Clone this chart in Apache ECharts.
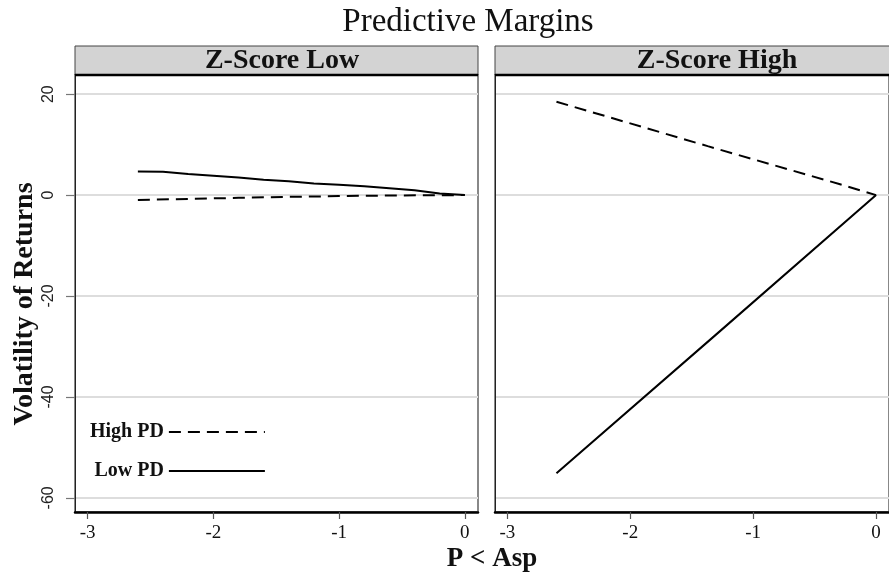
<!DOCTYPE html>
<html>
<head>
<meta charset="utf-8">
<script src="https://cdn.jsdelivr.net/npm/echarts@6/dist/echarts.min.js"></script>
<style>
  html, body { margin: 0; padding: 0; background: #fff; }
  #chart { width: 889px; height: 577px; }
</style>
</head>
<body>
<div id="chart"></div>
<script>
// Axis ticks shared by both panels
const xTicks = [-3, -2, -1, 0];
const yTicks = [20, 0, -20, -40, -60];
const panelTitles = ['Z-Score Low', 'Z-Score High'];
const seriesNames = ['High PD', 'Low PD'];

// Panel 1: Z-Score Low
const lowZ_highPD_x = [-2.6, -2.2, -1.8, -1.4, -1.0, -0.6, -0.2, 0];
const lowZ_highPD_y = [-0.95, -0.75, -0.55, -0.35, -0.2, -0.08, -0.02, 0];
const lowZ_lowPD_x = [-2.6, -2.4, -2.2, -2.0, -1.8, -1.6, -1.4, -1.2, -1.0, -0.8, -0.6, -0.4, -0.2, 0];
const lowZ_lowPD_y = [4.68, 4.65, 4.2, 3.85, 3.5, 3.05, 2.75, 2.3, 2.05, 1.75, 1.35, 0.95, 0.3, 0];

// Panel 2: Z-Score High
const highZ_highPD_x = [-2.6, -1.37, -0.3, 0];
const highZ_highPD_y = [18.5, 9.7, 2.2, 0];
const highZ_lowPD_x = [-2.6, -1.3, 0];
const highZ_lowPD_y = [-55.1, -27.6, 0];

const pairs = (xs, ys) => xs.map((x, i) => [x, ys[i]]);

const SERIF = '"Liberation Serif", "Times New Roman", serif';
const SANS = '"Liberation Sans", Arial, sans-serif';

const grids = [
  { left: 75, top: 75, width: 403, height: 437 },
  { left: 495, top: 75, width: 403, height: 437 }
];

function xAxisFor(i) {
  return {
    type: 'value', gridIndex: i, min: -3.1, max: 0.105,
    axisLine: { show: true, onZero: false, lineStyle: { color: '#000', width: 2.5 } },
    axisTick: { show: true, customValues: xTicks, length: 7, lineStyle: { color: '#555', width: 1.2 } },
    axisLabel: { customValues: xTicks, margin: 12, fontFamily: SERIF, fontSize: 19, color: '#111' },
    splitLine: { show: false }
  };
}

function yAxisFor(i) {
  const ax = {
    type: 'value', gridIndex: i, min: -62.8, max: 23.8,
    axisLine: { show: true, onZero: false, lineStyle: { color: '#222', width: 1 } },
    axisTick: { show: i === 0, customValues: yTicks, length: 9, lineStyle: { color: '#777', width: 1.2 } },
    axisLabel: { show: i === 0, customValues: yTicks, rotate: 90, margin: 18, fontFamily: SANS, fontSize: 16, color: '#222' },
    splitLine: { show: true, lineStyle: { color: '#dddddd', width: 2 } }
  };
  if (i === 0) {
    ax.name = 'Volatility of Returns';
    ax.nameLocation = 'middle';
    ax.nameRotate = 90;
    ax.nameGap = 36;
    ax.nameTextStyle = { fontFamily: SERIF, fontWeight: 'bold', fontSize: 28, color: '#111', padding: [0, 21, 0, 0] };
  }
  return ax;
}

function lineSeries(name, idx, xs, ys) {
  const dashed = name === 'High PD';
  return {
    name: name, type: 'line', xAxisIndex: idx, yAxisIndex: idx,
    data: pairs(xs, ys), symbol: 'none', smooth: false,
    lineStyle: { color: '#000', width: 2, type: dashed ? [12, 7] : 'solid' },
    itemStyle: { color: '#000' },
    z: 5
  };
}

function header(i, cx) {
  const g = grids[i];
  return [
    { type: 'rect', shape: { x: g.left, y: 46, width: g.width, height: 29 },
      style: { fill: '#d3d3d3', stroke: '#444', lineWidth: 1 }, z: 10 },
    { type: 'line', shape: { x1: g.left, y1: 75, x2: g.left + g.width, y2: 75 },
      style: { stroke: '#000', lineWidth: 2.5 }, z: 11 },
    { type: 'text', x: cx, y: 61,
      style: { text: panelTitles[i], align: 'center', verticalAlign: 'middle',
               fontFamily: SERIF, fontWeight: 'bold', fontSize: 28, fill: '#111' }, z: 12 }
  ];
}

const chart = echarts.init(document.getElementById('chart'), null, { renderer: 'canvas' });
chart.setOption({
  backgroundColor: '#fff',
  animation: false,
  title: [
    { text: 'Predictive Margins', left: 463, top: 1, textAlign: 'center',
      textStyle: { fontFamily: SERIF, fontWeight: 'normal', fontSize: 33, color: '#111' } },
    { text: 'P < Asp', left: 487, top: 541, textAlign: 'center',
      textStyle: { fontFamily: SERIF, fontWeight: 'bold', fontSize: 27, color: '#111' } }
  ],
  grid: grids.map(g => Object.assign({ show: true, borderColor: '#888', borderWidth: 2, backgroundColor: '#fff' }, g)),
  xAxis: [xAxisFor(0), xAxisFor(1)],
  yAxis: [yAxisFor(0), yAxisFor(1)],
  legend: {
    data: seriesNames,
    orient: 'vertical', left: 85, top: 417,
    align: 'right', itemWidth: 96, itemHeight: 14, itemGap: 19,
    // line-only key: hide the marker drawn in the middle of each key line
    itemStyle: { color: 'rgba(0,0,0,0)', borderWidth: 0, opacity: 0 },
    textStyle: { fontFamily: SERIF, fontWeight: 'bold', fontSize: 20, color: '#111' },
    selectedMode: false
  },
  graphic: [].concat(header(0, 282), header(1, 717)),
  series: [
    lineSeries('High PD', 0, lowZ_highPD_x, lowZ_highPD_y),
    lineSeries('Low PD', 0, lowZ_lowPD_x, lowZ_lowPD_y),
    lineSeries('High PD', 1, highZ_highPD_x, highZ_highPD_y),
    lineSeries('Low PD', 1, highZ_lowPD_x, highZ_lowPD_y)
  ]
});
</script>
</body>
</html>
